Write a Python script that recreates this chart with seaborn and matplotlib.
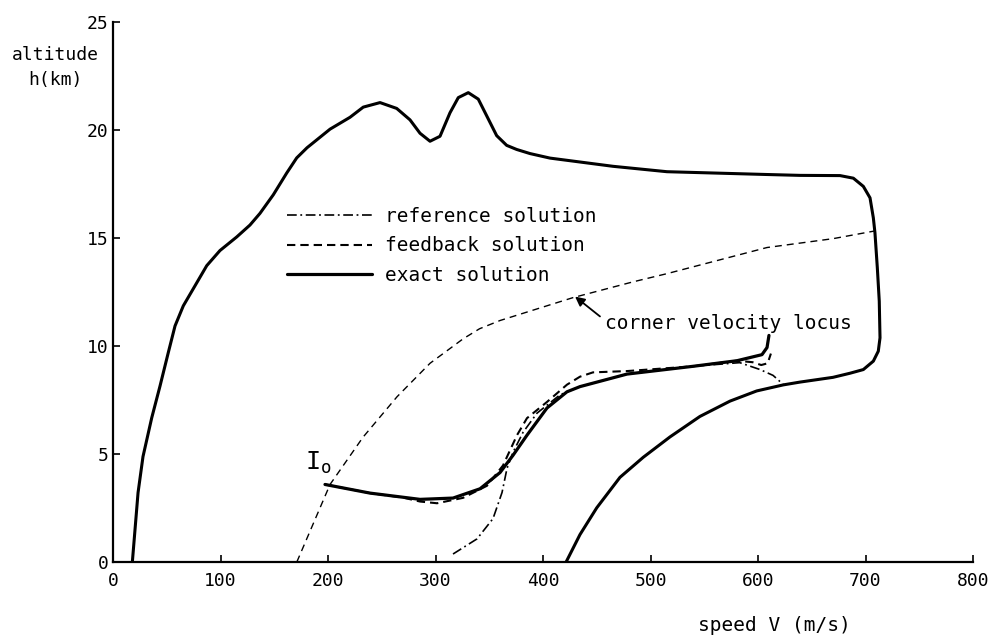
import matplotlib
matplotlib.use("Agg")
import matplotlib.pyplot as plt
import seaborn as sns

# ---- data ----
# outer boundary (exact solution envelope)
env_v = [18, 23.3, 27.9, 36.0, 43.7, 51.4, 57.7, 65.4, 76.3, 87.2, 99.5, 115.1,
         127.4, 136.7, 149.1, 161.6, 170.9, 180.5,
         201.9, 220.5, 232.8, 248.4, 263.9, 276.3, 285.6, 294.9, 304.2, 313.5,
         321.2, 330.5, 339.8, 347.6, 356.9, 366.2, 375.5, 387.9, 406.5, 465.1,
         515.3, 608.4, 639.1, 676.3, 688.7, 698, 704.2, 707.3, 708.8, 711, 712.8,
         713.5, 711.9, 707.3, 698, 685.6, 669.8, 639.1, 623.5, 598.8, 574, 546,
         518.1, 493.3, 471.6, 450, 434.4, 421.5]
env_h = [0, 3.21, 4.88, 6.67, 8.14, 9.69, 10.93, 11.86, 12.79, 13.72, 14.42, 15.05,
         15.6, 16.14, 17.0, 18.01, 18.71, 19.18,
         20.04, 20.59, 21.06, 21.27, 21.0, 20.47, 19.85, 19.48, 19.71, 20.8,
         21.5, 21.73, 21.43, 20.66, 19.74, 19.29, 19.1, 18.91, 18.7, 18.32,
         18.07, 17.94, 17.9, 17.89, 17.77, 17.39, 16.86, 15.93, 15.24, 13.62, 12.08,
         10.38, 9.76, 9.3, 8.91, 8.74, 8.55, 8.33, 8.2, 7.92, 7.45, 6.74,
         5.79, 4.85, 3.92, 2.51, 1.27, 0]

# corner velocity locus
corner_v = [171, 201.9, 232.6, 264.2, 294.9, 325.6, 341, 360, 427.9, 483.7, 515.3,
            608.4, 669.8, 707.9]
corner_h = [0, 3.59, 5.78, 7.65, 9.2, 10.33, 10.8, 11.18, 12.24, 12.97, 13.35,
            14.56, 14.97, 15.32]

# exact solution (inner trajectory from I0)
exact_v = [197.2, 239.1, 285.6, 316.3, 341.4, 360, 372.1, 385.1, 403.7, 422.3, 434.4,
           478.1, 539.5, 580.5, 603.7, 608.4, 610.2]
exact_h = [3.59, 3.19, 2.90, 2.96, 3.39, 4.14, 4.94, 5.87, 7.13, 7.88, 8.12,
           8.70, 9.06, 9.32, 9.6, 9.93, 10.49]

# feedback solution
feed_v = [197.2, 239.1, 270, 285.6, 301.4, 325.6, 347.9, 362.8, 375.8, 385.1, 403.7,
          422.3, 434.4, 446.5, 478.1, 539.5, 580.5, 595, 603, 609, 612]
feed_h = [3.59, 3.19, 2.98, 2.80, 2.72, 2.97, 3.53, 4.47, 5.87, 6.66, 7.41,
          8.21, 8.58, 8.78, 8.84, 9.06, 9.32, 9.25, 9.12, 9.2, 9.65]

# reference solution
ref_v = [316.3, 338.6, 353.5, 361.9, 366.5, 372.1, 381.4, 394.4, 415.8, 434.4,
         478.1, 539.5, 583, 601.9, 614, 623.3]
ref_h = [0.37, 1.07, 2.01, 3.22, 4.33, 5.08, 6.0, 6.89, 7.74, 8.12,
         8.70, 9.06, 9.23, 8.91, 8.64, 8.23]

legend_labels = ["reference solution", "feedback solution", "exact solution"]
x_ticks = [0, 100, 200, 300, 400, 500, 600, 700, 800]
y_ticks = [0, 5, 10, 15, 20, 25]

# ---- style ----
sns.set_theme(style="ticks")
plt.rcParams["font.family"] = ["DejaVu Sans Mono", "DejaVu Sans"]
plt.rcParams["lines.scale_dashes"] = False
plt.rcParams["axes.linewidth"] = 1.6
plt.rcParams["text.color"] = "black"
plt.rcParams["axes.labelcolor"] = "black"
plt.rcParams["axes.edgecolor"] = "black"

fig = plt.figure(figsize=(10, 6.42), dpi=100)
ax = fig.add_axes([0.113, 0.1246, 0.86, 0.8411])

sns.lineplot(x=env_v, y=env_h, sort=False, estimator=None, ax=ax,
             color="black", lw=2.2)
sns.lineplot(x=corner_v, y=corner_h, sort=False, estimator=None, ax=ax,
             color="black", lw=1.0, linestyle=(0, (5.0, 3.6)))
sns.lineplot(x=ref_v, y=ref_h, sort=False, estimator=None, ax=ax,
             color="black", lw=1.2, linestyle=(0, (7, 2.6, 1.3, 2.6)))
h_ref = ax.lines[-1]
sns.lineplot(x=feed_v, y=feed_h, sort=False, estimator=None, ax=ax,
             color="black", lw=1.5, linestyle=(0, (6, 3.6)))
h_feed = ax.lines[-1]
sns.lineplot(x=exact_v, y=exact_h, sort=False, estimator=None, ax=ax,
             color="black", lw=2.3)
h_exact = ax.lines[-1]

ax.set_xlim(0, 800)
ax.set_ylim(0, 25)
ax.set_xticks(x_ticks)
ax.set_yticks(y_ticks)
ax.tick_params(axis="both", direction="in", length=5, width=1.2,
               labelsize=13, colors="black")
ax.tick_params(axis="x", pad=7)
ax.tick_params(axis="y", pad=3)
sns.despine(ax=ax)

ax.set_xlabel("speed V (m/s)", fontsize=14)
ax.xaxis.set_label_coords(0.769, -0.10)
ax.set_ylabel("altitude\nh(km)", fontsize=13, rotation=0, ha="center",
              va="top", linespacing=1.45)
ax.yaxis.set_label_coords(-0.067, 0.955)

ax.legend([h_ref, h_feed, h_exact], legend_labels, loc="upper left",
          bbox_to_anchor=(0.202, 0.658), frameon=False, fontsize=14,
          handlelength=4.4, handletextpad=0.65, labelspacing=0.55,
          borderpad=0, borderaxespad=0)

ax.text(178.6, 4.27, r"I$\mathregular{_o}$", fontsize=18, ha="left",
        va="baseline")
ax.annotate("", xy=(429.8, 12.29), xytext=(453, 11.37),
            arrowprops=dict(arrowstyle="-|>", color="black", lw=1.3,
                            mutation_scale=14, shrinkA=0, shrinkB=0))
ax.text(457.7, 10.77, "corner velocity locus", fontsize=14, ha="left",
        va="baseline")

fig.savefig("out.png", dpi=100)
